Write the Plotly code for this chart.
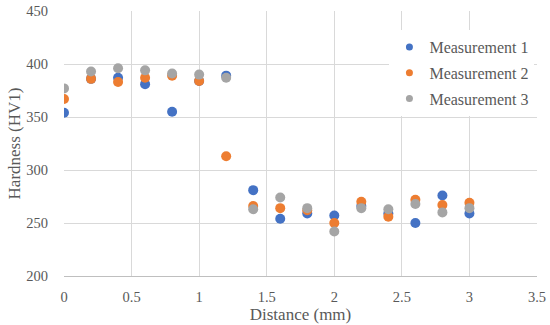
import plotly.graph_objects as go

distance = [0, 0.2, 0.4, 0.6, 0.8, 1.0, 1.2, 1.4, 1.6, 1.8, 2.0, 2.2, 2.4, 2.6, 2.8, 3.0]
meas1 = [354, 386, 387, 381, 355, 384, 389, 281, 254, 259, 257, 266, 259, 250, 276, 259]
meas2 = [367, 386, 383, 387, 389, 384, 313, 266, 264, 262, 250, 270, 256, 272, 267, 269]
meas3 = [377, 393, 396, 394, 391, 390, 387, 263, 274, 264, 242, 264, 263, 268, 260, 264]
names = ["Measurement 1", "Measurement 2", "Measurement 3"]
colors = ["#4472C4", "#ED7D31", "#A5A5A5"]

font = "Liberation Serif"
fig = go.Figure()
for name, vals, c in zip(names, [meas1, meas2, meas3], colors):
    fig.add_trace(go.Scatter(x=distance, y=vals, mode="markers", name=name,
                             legendgroup=name, showlegend=False,
                             marker=dict(color=c, size=10)))
for name, c in zip(names, colors):
    fig.add_trace(go.Scatter(x=[None], y=[None], mode="markers", name=name,
                             legendgroup=name, showlegend=True,
                             marker=dict(color=c, size=7)))

fig.update_layout(
    width=550, height=325,
    margin=dict(l=64, r=13, t=11, b=49, autoexpand=False),
    paper_bgcolor="white", plot_bgcolor="white",
    font=dict(family=font, size=14, color="#595959"),
    legend=dict(x=0.688, y=0.928, xanchor="left", yanchor="top",
                bgcolor="white", font=dict(size=16, color="#595959"),
                tracegroupgap=2, itemsizing="trace", itemwidth=30),
    xaxis=dict(range=[0, 3.5], dtick=0.5, tick0=0, showgrid=True, gridcolor="#D9D9D9",
               zeroline=False, showline=True, linecolor="#BFBFBF",
               ticks="outside", ticklen=8, tickcolor="rgba(0,0,0,0)",
               automargin=False,
               title=dict(text="Distance (mm)", font=dict(size=17), standoff=2),
               tickfont=dict(size=14.5)),
    yaxis=dict(range=[200, 450], dtick=50, showgrid=True, gridcolor="#D9D9D9",
               zeroline=False, showline=False,
               ticks="outside", ticklen=12, tickcolor="rgba(0,0,0,0)",
               automargin=False,
               title=dict(text="Hardness (HV1)", font=dict(size=17), standoff=1),
               tickfont=dict(size=14.5)),
)
fig.write_html("out.html", config={"displayModeBar": False},
               post_script="document.body.style.margin='0';document.body.style.overflow='hidden';")
